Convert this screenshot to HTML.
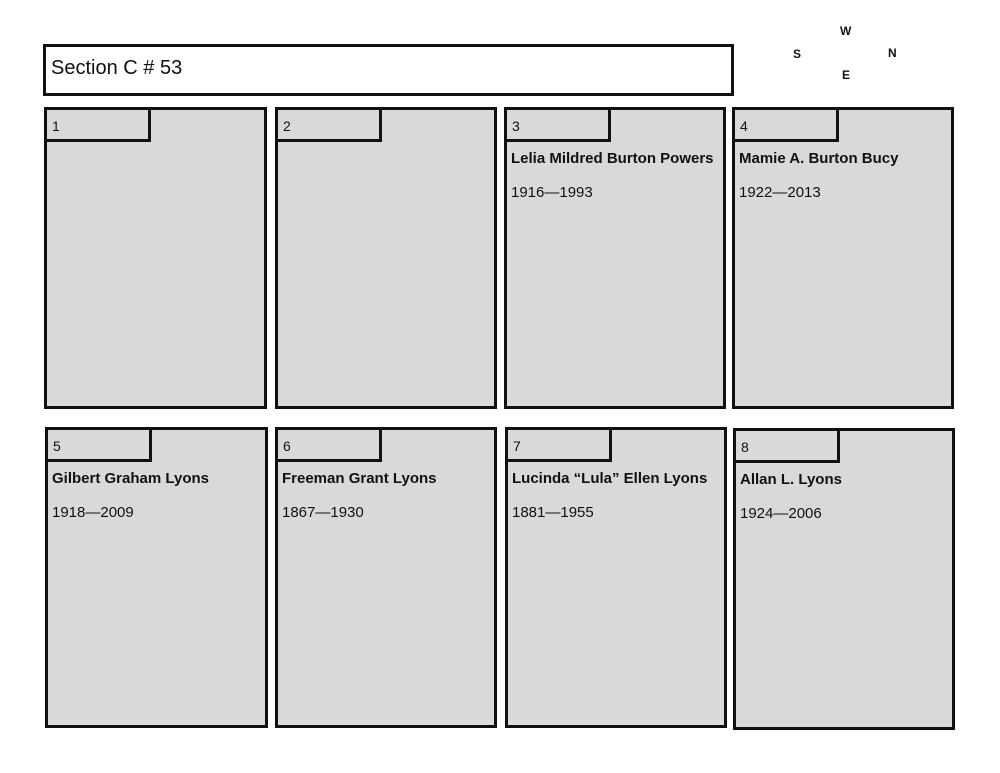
<!DOCTYPE html>
<html><head><meta charset="utf-8"><style>
body{margin:0;width:1000px;height:773px;background:#fff;position:relative;font-family:"Liberation Sans",sans-serif;overflow:hidden}
.a{position:absolute;box-sizing:border-box}
.box{border:3px solid #111;background:#d9d9d9}
.tab{position:absolute;left:-3px;top:-3px;width:107px;height:35px;border:3px solid #111;box-sizing:border-box;font-size:14px;padding:8px 0 0 5px;color:#111}
.nm{position:absolute;left:4px;top:40px;font-size:15px;font-weight:bold;color:#111;white-space:nowrap}
.dt{position:absolute;left:4px;top:74px;font-size:15px;color:#111;white-space:nowrap}
.c{position:absolute;font-size:12px;font-weight:bold;color:#111}
</style></head><body>
<div class="a" style="left:43px;top:44px;width:691px;height:52px;border:3px solid #111;background:#fff;font-size:20px;padding:10px 0 0 5px;color:#111">Section C # 53</div>
<div class="c" style="left:840px;top:24px">W</div>
<div class="c" style="left:793px;top:47px">S</div>
<div class="c" style="left:888px;top:46px">N</div>
<div class="c" style="left:842px;top:68px">E</div>

<div class="a box" style="left:44px;top:107px;width:223px;height:302px"><div class="tab">1</div></div>
<div class="a box" style="left:275px;top:107px;width:222px;height:302px"><div class="tab">2</div></div>
<div class="a box" style="left:504px;top:107px;width:222px;height:302px"><div class="tab">3</div><div class="nm">Lelia Mildred Burton Powers</div><div class="dt">1916—1993</div></div>
<div class="a box" style="left:732px;top:107px;width:222px;height:302px"><div class="tab">4</div><div class="nm">Mamie A. Burton Bucy</div><div class="dt">1922—2013</div></div>

<div class="a box" style="left:45px;top:427px;width:223px;height:301px"><div class="tab">5</div><div class="nm">Gilbert Graham Lyons</div><div class="dt">1918—2009</div></div>
<div class="a box" style="left:275px;top:427px;width:222px;height:301px"><div class="tab">6</div><div class="nm">Freeman Grant Lyons</div><div class="dt">1867—1930</div></div>
<div class="a box" style="left:505px;top:427px;width:222px;height:301px"><div class="tab">7</div><div class="nm">Lucinda “Lula” Ellen Lyons</div><div class="dt">1881—1955</div></div>
<div class="a box" style="left:733px;top:428px;width:222px;height:302px"><div class="tab">8</div><div class="nm">Allan L. Lyons</div><div class="dt">1924—2006</div></div>
</body></html>
